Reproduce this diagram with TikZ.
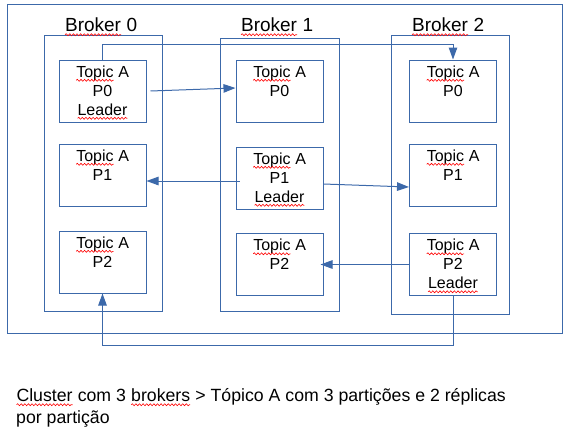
\documentclass[tikz,border=0pt]{standalone}
\usepackage{fontspec}
\setmainfont{Liberation Sans}
\usetikzlibrary{arrows.meta,positioning,decorations.pathmorphing}

\definecolor{loblue}{RGB}{60,105,170}
% subrayado ondulado rojo
\newcommand{\spell}[1]{\tikz[baseline=(w.base)]{\node[inner sep=0pt, outer sep=0pt] (w) {#1};
  \draw[red, line width=0.6pt, decorate, decoration={snake, amplitude=1pt, segment length=3.6pt}]
    ([yshift=-3pt]w.base west) -- ([yshift=-3pt]w.base east);}}

\tikzset{
  frame/.style={rectangle, draw=loblue, line width=1pt, inner sep=0pt},
  part/.style={frame, minimum width=87pt, minimum height=62pt},
  parttext/.style={align=center, inner sep=0pt, font=\fontsize{16}{19}\selectfont},
  brokertext/.style={anchor=base, inner sep=0pt, font=\fontsize{19}{22}\selectfont},
  repl/.style={draw=loblue, line width=1pt, -{Triangle[length=12pt,width=8.5pt]}}
}

\begin{document}
\begin{tikzpicture}[x=1pt, y=-1pt]
\useasboundingbox (0,0) rectangle (573,437);

% Cluster
\node[frame, minimum width=555pt, minimum height=329pt] at (284.5,168.5) (Cluster) {};

% Brokers
\node[frame, minimum width=118pt, minimum height=276pt] at (103,173) (Brk0) {};
\node[frame, minimum width=119pt, minimum height=273pt] at (279.5,174.5) (Brk1) {};
\node[frame, minimum width=118pt, minimum height=279pt] at (450,174.5) (Brk2) {};

\node[brokertext] at (101,31.7) (Brk0t) {\spell{Broker} 0};
\node[brokertext] at (277,31.7) (Brk1t) {\spell{Broker} 1};
\node[brokertext] at (448,31.7) (Brk2t) {\spell{Broker} 2};

% Particiones broker 0
\node[part] at (102.5,91) (B0P0) {};
\node[part] at (102.5,175) (B0P1) {};
\node[part] at (102.5,262) (B0P2) {};
\node[parttext, below=6pt of B0P0.north] (B0P0t) {\spell{Topic} A\\P0\\\spell{Leader}};
\node[parttext, below=6pt of B0P1.north] (B0P1t) {\spell{Topic} A\\P1};
\node[parttext, below=6pt of B0P2.north] (B0P2t) {\spell{Topic} A\\P2};

% Particiones broker 1
\node[part] at (279.5,91) (B1P0) {};
\node[part] at (279.5,178) (B1P1) {};
\node[part] at (279.5,264.5) (B1P2) {};
\node[parttext, below=6pt of B1P0.north] (B1P0t) {\spell{Topic} A\\P0};
\node[parttext, below=6pt of B1P1.north] (B1P1t) {\spell{Topic} A\\P1\\\spell{Leader}};
\node[parttext, below=6pt of B1P2.north] (B1P2t) {\spell{Topic} A\\P2};

% Particiones broker 2
\node[part] at (453,91) (B2P0) {};
\node[part] at (453,175) (B2P1) {};
\node[part] at (453,264.5) (B2P2) {};
\node[parttext, below=6pt of B2P0.north] (B2P0t) {\spell{Topic} A\\P0};
\node[parttext, below=6pt of B2P1.north] (B2P1t) {\spell{Topic} A\\P1};
\node[parttext, below=6pt of B2P2.north] (B2P2t) {\spell{Topic} A\\P2\\\spell{Leader}};

% Replicas
\draw[repl] ([xshift=4pt]B0P0.east) -- ([yshift=3pt]B1P0.west);
\draw[repl] ([xshift=4pt,yshift=-3pt]B1P1.west) -- ([yshift=-6pt]B0P1.east);
\draw[repl] ([yshift=-6pt]B1P1.east) -- ([yshift=-12pt]B2P1.west);
\draw[repl] (B2P2.west) -- ([xshift=-3pt]B1P2.east);
\draw[repl] (B0P0.north) -- ++(0,-15) -| (B2P0.north);
\draw[repl] (B2P2.south) -- ++(0,49) -| (B0P2.south);

% Leyenda
\node[anchor=north west, align=left, inner sep=0pt, font=\fontsize{17.7}{21.5}\selectfont] at (16,388.5) (Caption)
{\spell{Cluster} com 3 \spell{brokers} > Tópico A com 3 partições e 2 réplicas\\por partição};

\end{tikzpicture}
\end{document}
